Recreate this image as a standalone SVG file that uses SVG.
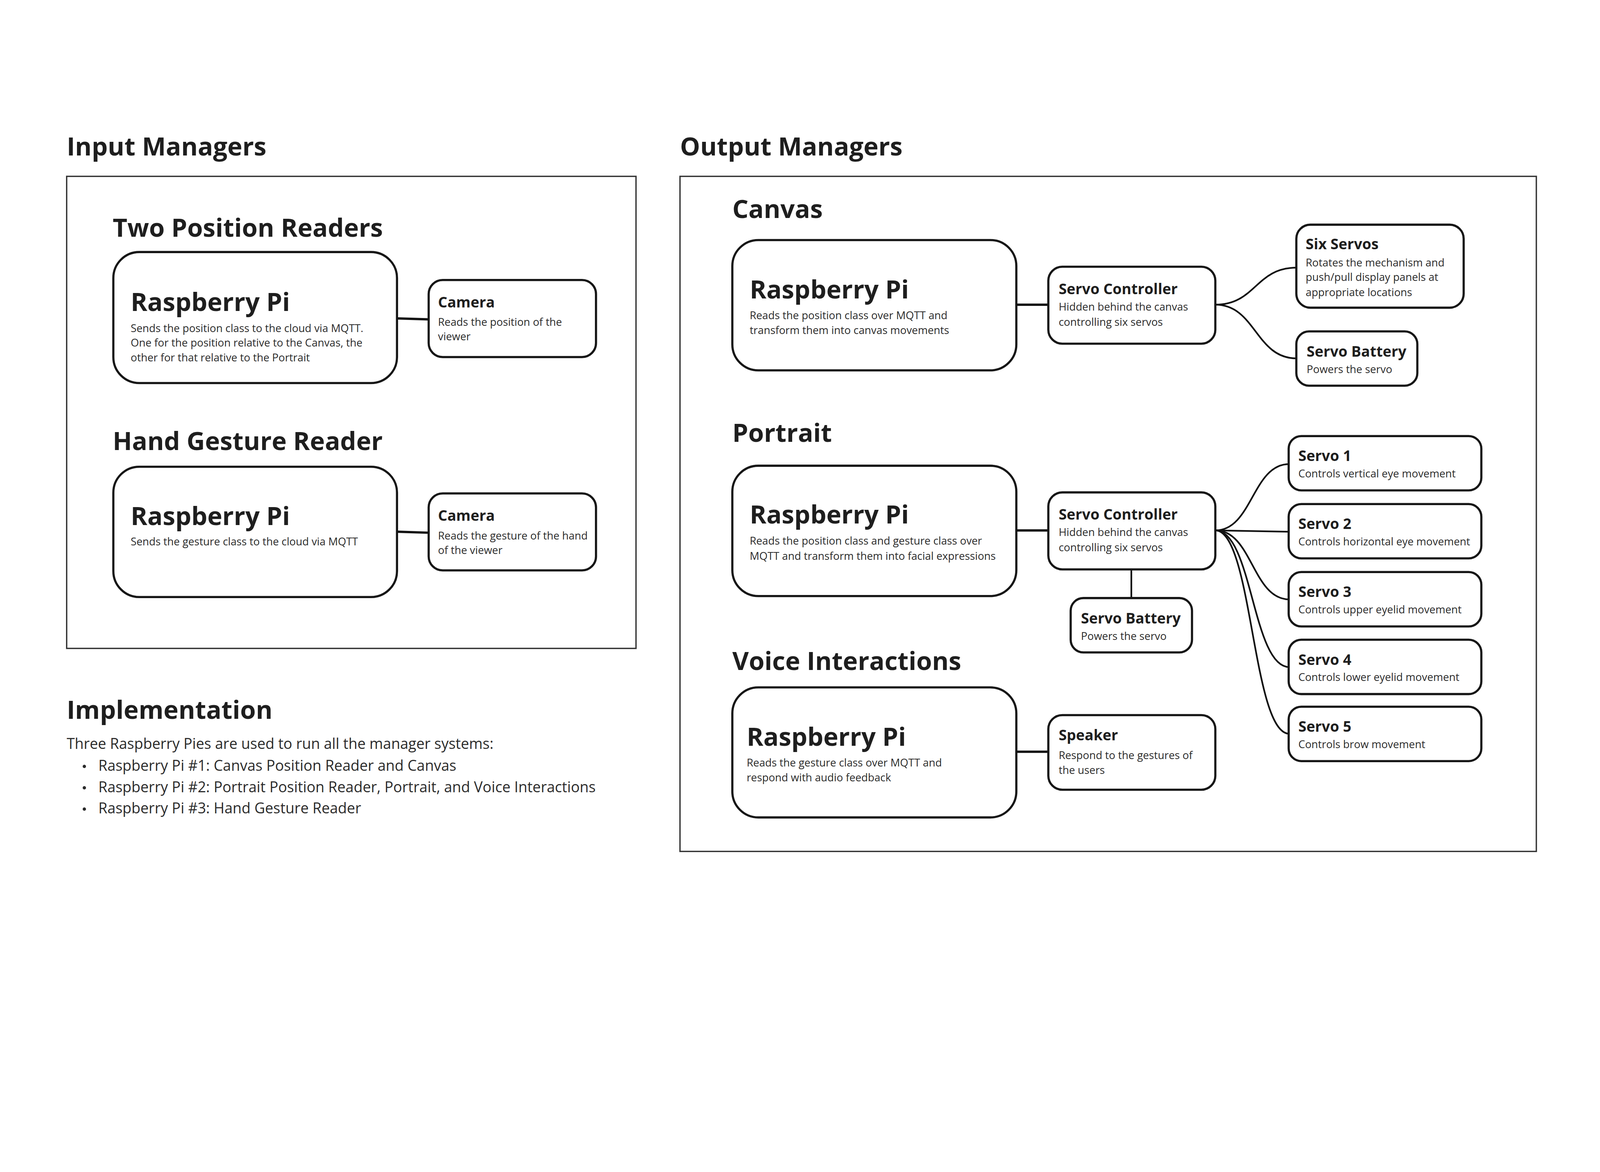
<svg xmlns="http://www.w3.org/2000/svg" width="4800" height="3000" viewBox="0 0 4800 3000" style="max-width:100%;height:auto">
<style>
text{font-family:"Open Sans","Noto Sans","Liberation Sans",sans-serif;fill:#1e1e1e}
.h{font-size:76px;font-weight:700}
.big{font-size:76px;font-weight:700}
.t{font-size:44px;font-weight:700}
.d{font-size:32px;font-weight:400;fill:#2b2b2b}
.b{font-size:44px;font-weight:400;fill:#2b2b2b}
.frame{fill:none;stroke:#333;stroke-width:4}
.n{fill:#fff;stroke:#161616;stroke-width:6.5}
.c{fill:none;stroke:#111;stroke-width:7}
.cs{fill:none;stroke:#111;stroke-width:5}
</style>
<rect width="4800" height="3000" fill="#fff"/>
<g id="titles">
<text class="h" x="200" y="466">Input Managers</text>
<text class="h" x="2040" y="466">Output Managers</text>
<rect class="frame" x="200" y="529" width="1708" height="1416"/>
<rect class="frame" x="2040" y="529" width="2569" height="2025"/>
<text class="h" x="338" y="710">Two Position Readers</text>
<text class="h" x="338" y="1350">Hand Gesture Reader</text>
<text class="h" x="2197" y="654">Canvas</text>
<text class="h" x="2197" y="1325">Portrait</text>
<text class="h" x="2197" y="2010">Voice Interactions</text>
</g>
<g id="connectors">
<path class="c" d="M1191 955 L1286 958"/>
<path class="c" d="M1191 1595 L1286 1598"/>
<path class="c" d="M3049 914 L3145 914"/>
<path class="cs" d="M3646 914 C3767 914 3767 803 3889 803"/>
<path class="cs" d="M3646 914 C3767 914 3767 1075 3889 1075"/>
<path class="c" d="M3049 1591 L3145 1591"/>
<path class="cs" d="M3394 1711 L3394 1794"/>
<path class="cs" d="M3646 1591 C3757 1591 3757 1392 3868 1392"/>
<path class="cs" d="M3646 1591 L3868 1595"/>
<path class="cs" d="M3646 1591 C3757 1591 3757 1798 3868 1798"/>
<path class="cs" d="M3646 1591 C3757 1591 3757 2001 3868 2001"/>
<path class="cs" d="M3646 1591 C3757 1591 3757 2201 3868 2201"/>
<path class="c" d="M3049 2255 L3145 2255"/>
</g>
<g id="pos-rpi">
<rect class="n" x="340" y="756" width="851" height="393" rx="78"/>
<text class="big" x="392" y="933">Raspberry Pi</text>
<text class="d" x="392" y="996">Sends the position class to the cloud via MQTT.</text>
<text class="d" x="392" y="1040">One for the position relative to the Canvas, the</text>
<text class="d" x="392" y="1084">other for that relative to the Portrait</text>
</g>
<g id="pos-camera">
<rect class="n" x="1286" y="840" width="502" height="231" rx="42"/>
<text class="t" x="1314" y="922">Camera</text>
<text class="d" x="1314" y="977">Reads the position of the</text>
<text class="d" x="1314" y="1021">viewer</text>
</g>
<g id="gesture-rpi">
<rect class="n" x="340" y="1400" width="851" height="391" rx="78"/>
<text class="big" x="392" y="1575">Raspberry Pi</text>
<text class="d" x="392" y="1636">Sends the gesture class to the cloud via MQTT</text>
</g>
<g id="gesture-camera">
<rect class="n" x="1286" y="1480" width="502" height="231" rx="42"/>
<text class="t" x="1314" y="1562">Camera</text>
<text class="d" x="1314" y="1618">Reads the gesture of the hand</text>
<text class="d" x="1314" y="1662">of the viewer</text>
</g>
<g id="implementation">
<text class="h" x="200" y="2156">Implementation</text>
<text class="b" x="200" y="2247">Three Raspberry Pies are used to run all the manager systems:</text>
<circle cx="253" cy="2299" r="5" fill="#2b2b2b"/>
<text class="b" x="295" y="2312">Raspberry Pi #1: Canvas Position Reader and Canvas</text>
<circle cx="253" cy="2363" r="5" fill="#2b2b2b"/>
<text class="b" x="295" y="2376">Raspberry Pi #2: Portrait Position Reader, Portrait, and Voice Interactions</text>
<circle cx="253" cy="2427" r="5" fill="#2b2b2b"/>
<text class="b" x="295" y="2440">Raspberry Pi #3: Hand Gesture Reader</text>
</g>
<g id="canvas-rpi">
<rect class="n" x="2197" y="720" width="852" height="391" rx="78"/>
<text class="big" x="2249" y="895">Raspberry Pi</text>
<text class="d" x="2249" y="958">Reads the position class over MQTT and</text>
<text class="d" x="2249" y="1002">transform them into canvas movements</text>
</g>
<g id="canvas-controller">
<rect class="n" x="3145" y="800" width="501" height="231" rx="42"/>
<text class="t" x="3176" y="882">Servo Controller</text>
<text class="d" x="3176" y="932">Hidden behind the canvas</text>
<text class="d" x="3176" y="977">controlling six servos</text>
</g>
<g id="six-servos">
<rect class="n" x="3889" y="674" width="502" height="249" rx="42"/>
<text class="t" x="3917" y="748">Six Servos</text>
<text class="d" x="3917" y="799">Rotates the mechanism and</text>
<text class="d" x="3917" y="843">push/pull display panels at</text>
<text class="d" x="3917" y="888">appropriate locations</text>
</g>
<g id="canvas-battery">
<rect class="n" x="3889" y="994" width="363" height="163" rx="38"/>
<text class="t" x="3920" y="1070">Servo Battery</text>
<text class="d" x="3920" y="1119">Powers the servo</text>
</g>
<g id="portrait-rpi">
<rect class="n" x="2197" y="1397" width="852" height="391" rx="78"/>
<text class="big" x="2249" y="1570">Raspberry Pi</text>
<text class="d" x="2249" y="1634">Reads the position class and gesture class over</text>
<text class="d" x="2249" y="1679">MQTT and transform them into facial expressions</text>
</g>
<g id="portrait-controller">
<rect class="n" x="3145" y="1477" width="501" height="231" rx="42"/>
<text class="t" x="3176" y="1559">Servo Controller</text>
<text class="d" x="3176" y="1608">Hidden behind the canvas</text>
<text class="d" x="3176" y="1654">controlling six servos</text>
</g>
<g id="portrait-battery">
<rect class="n" x="3212" y="1794" width="364" height="163" rx="38"/>
<text class="t" x="3243" y="1870">Servo Battery</text>
<text class="d" x="3243" y="1919">Powers the servo</text>
</g>
<g id="servo-1">
<rect class="n" x="3866" y="1308" width="578" height="163" rx="38"/>
<text class="t" x="3895" y="1383">Servo 1</text>
<text class="d" x="3895" y="1432">Controls vertical eye movement</text>
</g>
<g id="servo-2">
<rect class="n" x="3866" y="1512" width="578" height="163" rx="38"/>
<text class="t" x="3895" y="1587">Servo 2</text>
<text class="d" x="3895" y="1636">Controls horizontal eye movement</text>
</g>
<g id="servo-3">
<rect class="n" x="3866" y="1716" width="578" height="163" rx="38"/>
<text class="t" x="3895" y="1791">Servo 3</text>
<text class="d" x="3895" y="1840">Controls upper eyelid movement</text>
</g>
<g id="servo-4">
<rect class="n" x="3866" y="1919" width="578" height="163" rx="38"/>
<text class="t" x="3895" y="1994">Servo 4</text>
<text class="d" x="3895" y="2043">Controls lower eyelid movement</text>
</g>
<g id="servo-5">
<rect class="n" x="3866" y="2120" width="578" height="163" rx="38"/>
<text class="t" x="3895" y="2195">Servo 5</text>
<text class="d" x="3895" y="2244">Controls brow movement</text>
</g>
<g id="voice-rpi">
<rect class="n" x="2197" y="2062" width="852" height="390" rx="78"/>
<text class="big" x="2240" y="2237">Raspberry Pi</text>
<text class="d" x="2240" y="2299">Reads the gesture class over MQTT and</text>
<text class="d" x="2240" y="2344">respond with audio feedback</text>
</g>
<g id="speaker">
<rect class="n" x="3145" y="2145" width="501" height="224" rx="42"/>
<text class="t" x="3176" y="2221">Speaker</text>
<text class="d" x="3176" y="2277">Respond to the gestures of</text>
<text class="d" x="3176" y="2322">the users</text>
</g>
</svg>
